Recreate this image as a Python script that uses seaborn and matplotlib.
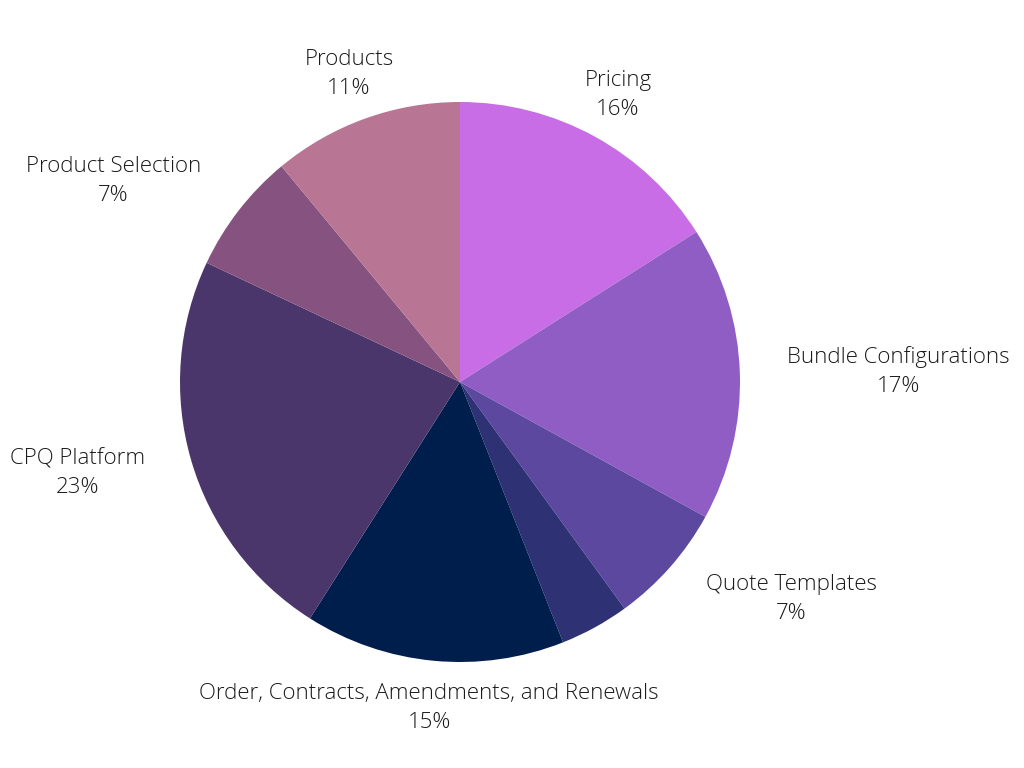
import numpy as np
import matplotlib
matplotlib.use("Agg")
import matplotlib.pyplot as plt
import seaborn as sns

# slices, clockwise from 12 o'clock
categories = ["Pricing", "Bundle Configurations", "Quote Templates", "",
              "Order, Contracts, Amendments, and Renewals", "CPQ Platform",
              "Product Selection", "Products"]
shares = [16, 17, 7, 4, 15, 23, 7, 11]
colours = ["#c86de6", "#905dc5", "#5c489f", "#2e3275",
           "#001e4c", "#4b366b", "#865380", "#b87594"]

sns.set_theme(style="white")
plt.rcParams['font.family'] = ['Open Sans', 'DejaVu Sans']

fig = plt.figure(figsize=(10.24, 7.68), dpi=100)
ax = fig.add_axes([180 / 1024, 106 / 768, 560 / 1024, 560 / 768])

pal = sns.color_palette(colours)
wedges, _ = ax.pie(shares, colors=pal, startangle=90, counterclock=False,
                   radius=1, wedgeprops=dict(linewidth=0))
ax.set_xlim(-1, 1)
ax.set_ylim(-1, 1)
ax.axis('off')

for w, name, v in zip(wedges, categories, shares):
    if not name:
        continue
    mid = np.deg2rad((w.theta1 + w.theta2) / 2)
    x, y = 1.17 * np.cos(mid), 1.17 * np.sin(mid)
    c = np.cos(mid)
    if c > 0.6:
        ha = 'left'
    elif c < -0.6:
        ha = 'right'
    else:
        ha = 'center'
    ax.text(x, y, f"{name}\n{v}%", ha=ha, va='center', multialignment='center',
            fontsize=16, fontweight='light', color='#1a1a1a', linespacing=1.5)

fig.savefig("out.png", dpi=100, facecolor='white')
